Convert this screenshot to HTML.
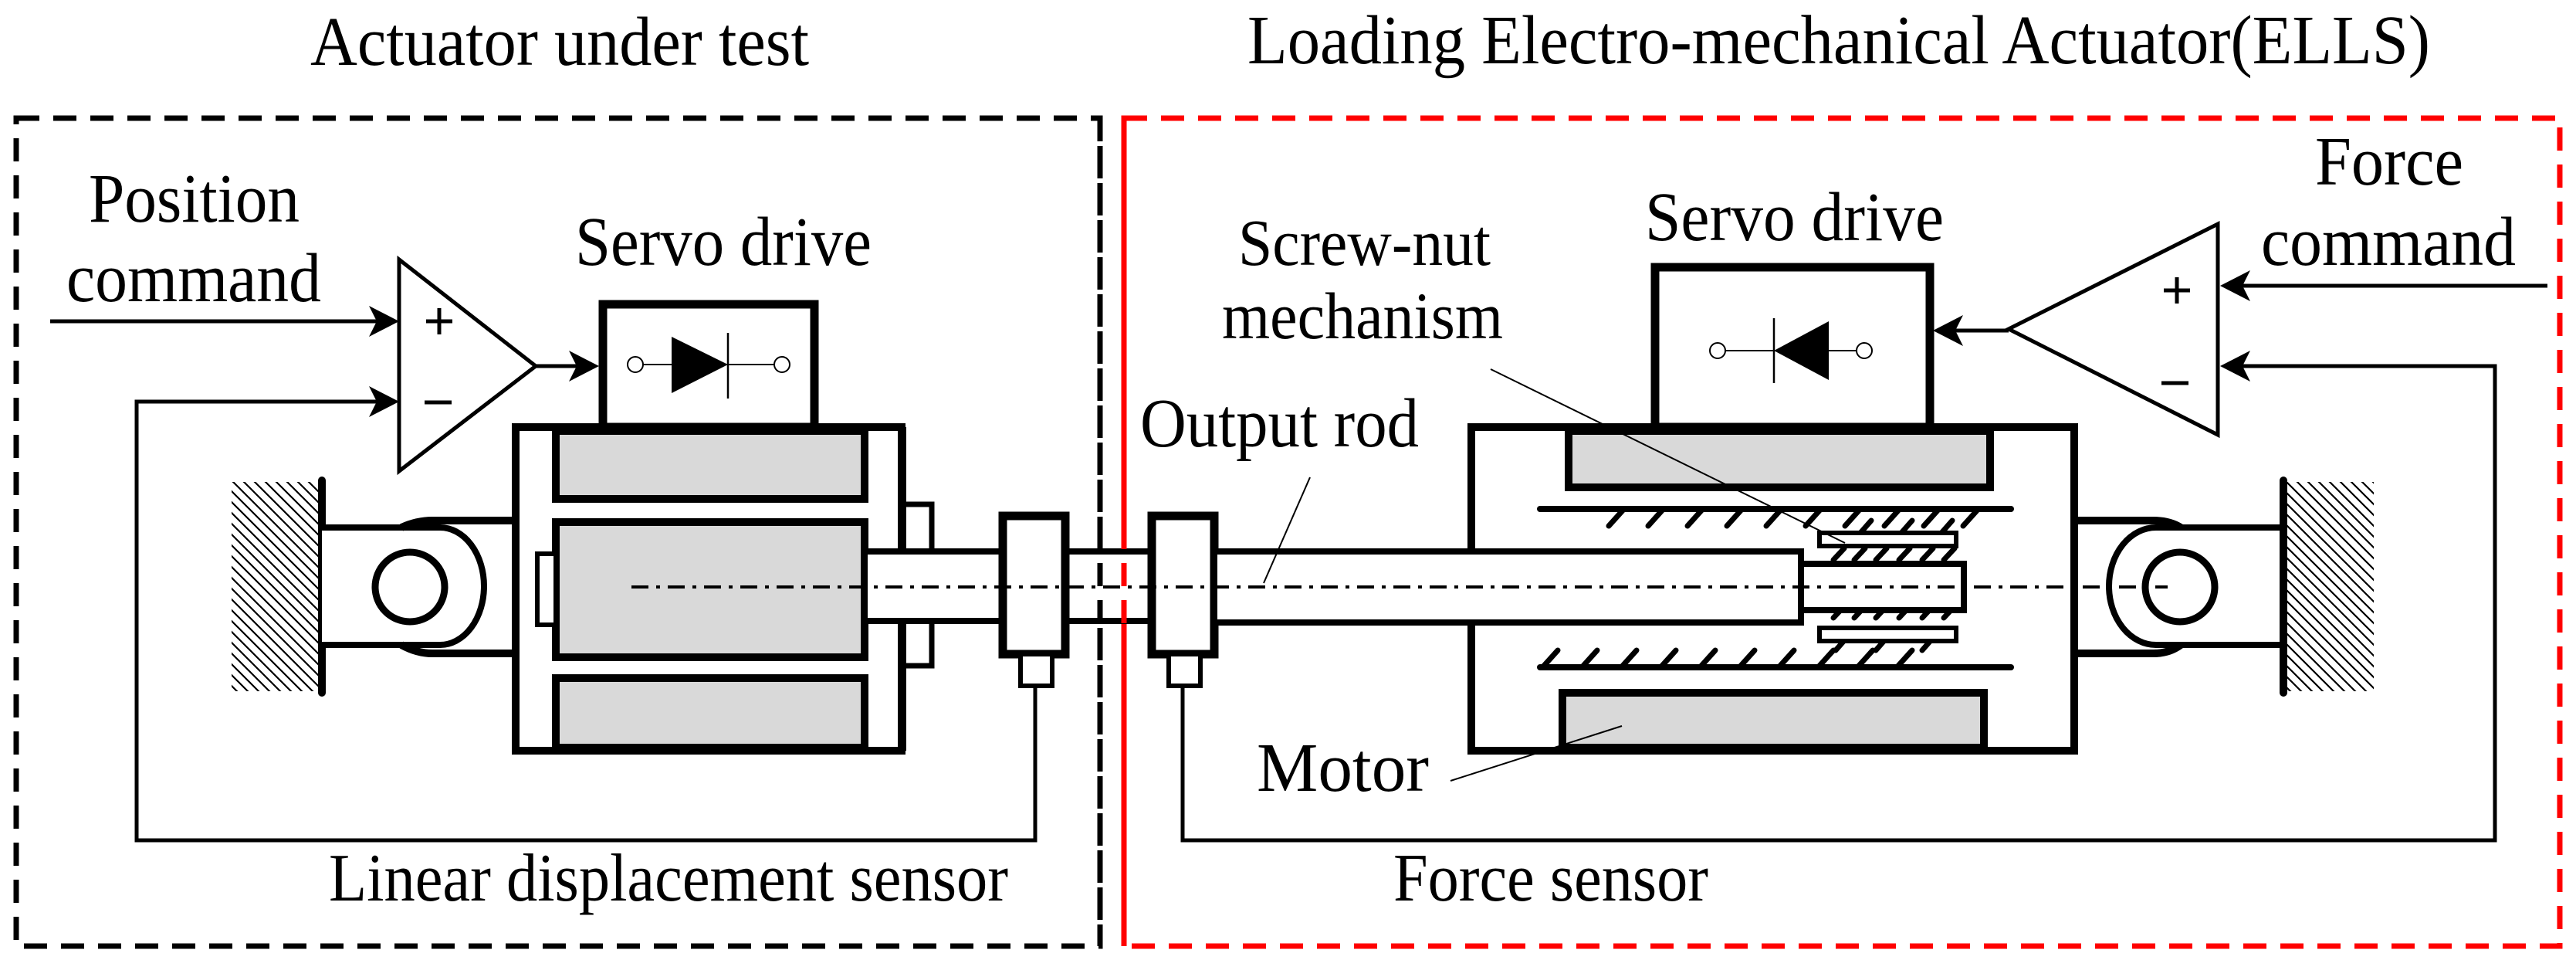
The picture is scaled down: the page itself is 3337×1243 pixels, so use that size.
<!DOCTYPE html>
<html><head><meta charset="utf-8"><style>
html,body{margin:0;padding:0;background:#fff}
svg{display:block}
text{font-family:"Liberation Serif",serif;fill:#000}
</style></head><body>
<svg width="3337" height="1243" viewBox="0 0 3337 1243" xmlns="http://www.w3.org/2000/svg">
<defs>
<pattern id="h" patternUnits="userSpaceOnUse" width="14" height="14">
<path d="M-7,-7 L21,21 M-7,7 L7,21 M7,-7 L21,7" stroke="#000" stroke-width="2.2"/>
</pattern>
</defs>

<!-- titles -->
<text x="402" y="84" font-size="90" textLength="646" lengthAdjust="spacingAndGlyphs">Actuator under test</text>
<text x="1616" y="82" font-size="90" textLength="1532" lengthAdjust="spacingAndGlyphs">Loading Electro-mechanical Actuator(ELLS)</text>

<!-- dashed boxes -->
<rect x="21" y="153" width="1404" height="1072" fill="none" stroke="#000" stroke-width="7" stroke-dasharray="30,18"/>
<rect x="1456" y="153" width="1860" height="1072" fill="none" stroke="#f00" stroke-width="7" stroke-dasharray="30,18"/>

<!-- LEFT labels -->
<text x="115" y="287" font-size="90" textLength="273" lengthAdjust="spacingAndGlyphs">Position</text>
<text x="86" y="390" font-size="90" textLength="330" lengthAdjust="spacingAndGlyphs">command</text>
<text x="745" y="343" font-size="90" textLength="384" lengthAdjust="spacingAndGlyphs">Servo drive</text>
<text x="426" y="1166" font-size="88" textLength="880" lengthAdjust="spacingAndGlyphs">Linear displacement sensor</text>

<!-- left amp -->
<polygon points="517,336 517,610 694,474" fill="none" stroke="#000" stroke-width="5"/>
<line x1="552" y1="416" x2="586" y2="416" stroke="#000" stroke-width="5"/>
<line x1="569" y1="399" x2="569" y2="433" stroke="#000" stroke-width="5"/>
<line x1="550" y1="521" x2="585" y2="521" stroke="#000" stroke-width="5"/>
<line x1="65" y1="416" x2="490" y2="416" stroke="#000" stroke-width="5"/>
<polygon points="517,416 478,396 488,416 478,436" fill="#000"/>
<polyline points="490,520 177,520 177,1088 1341,1088 1341,888" fill="none" stroke="#000" stroke-width="5"/>
<polygon points="517,520 478,500 488,520 478,540" fill="#000"/>
<line x1="694" y1="474" x2="750" y2="474" stroke="#000" stroke-width="5"/>
<polygon points="776,474 737,454 747,474 737,494" fill="#000"/>

<!-- left servo box -->
<rect x="781" y="394" width="274" height="159" fill="#fff" stroke="#000" stroke-width="11"/>
<line x1="833" y1="472" x2="1003" y2="472" stroke="#000" stroke-width="2"/>
<circle cx="823" cy="472" r="10" fill="#fff" stroke="#000" stroke-width="2"/>
<circle cx="1013" cy="472" r="10" fill="#fff" stroke="#000" stroke-width="2"/>
<polygon points="870,436 870,509 943,472" fill="#000"/>
<line x1="943" y1="431" x2="943" y2="516" stroke="#000" stroke-width="2.5"/>

<!-- left clevis & wall -->
<rect x="300" y="624" width="114" height="271" fill="url(#h)"/>
<line x1="417" y1="622" x2="417" y2="897" stroke="#000" stroke-width="10" stroke-linecap="round"/>
<path d="M417,683 H570 A57,76 0 0 1 570,835 H417" fill="#fff" stroke="#000" stroke-width="8"/>
<path d="M520,683 Q540,674 560,674 H667 M520,835 Q540,846 560,846 H667" fill="none" stroke="#000" stroke-width="10"/>
<circle cx="531" cy="760" r="45" fill="none" stroke="#000" stroke-width="9"/>

<!-- left motor housing -->
<rect x="668" y="553" width="500" height="419" fill="#fff" stroke="#000" stroke-width="10"/>
<rect x="720" y="558" width="400" height="88" fill="#d9d9d9" stroke="#000" stroke-width="10"/>
<rect x="720" y="676" width="400" height="175" fill="#d9d9d9" stroke="#000" stroke-width="10"/>
<rect x="720" y="878" width="400" height="90" fill="#d9d9d9" stroke="#000" stroke-width="10"/>
<rect x="696" y="717" width="24" height="92" fill="#fff" stroke="#000" stroke-width="6"/>
<rect x="1169" y="653" width="38" height="209" fill="#fff" stroke="#000" stroke-width="7"/>
<line x1="1169" y1="553" x2="1169" y2="972" stroke="#000" stroke-width="10"/>

<!-- rod left -->
<rect x="1120" y="714" width="180" height="90" fill="#fff" stroke="#000" stroke-width="8"/>
<rect x="1380" y="714" width="112" height="90" fill="#fff" stroke="#000" stroke-width="8"/>

<!-- sensors -->
<rect x="1299" y="668" width="81" height="179" fill="#fff" stroke="#000" stroke-width="11"/>
<rect x="1322" y="847" width="41" height="41" fill="#fff" stroke="#000" stroke-width="6"/>
<rect x="1492" y="668" width="81" height="179" fill="#fff" stroke="#000" stroke-width="11"/>
<rect x="1514" y="847" width="41" height="41" fill="#fff" stroke="#000" stroke-width="6"/>

<line x1="1425" y1="153" x2="1425" y2="1225" stroke="#000" stroke-width="7" stroke-dasharray="30,18"/>
<line x1="1456" y1="153" x2="1456" y2="1225" stroke="#f00" stroke-width="7" stroke-dasharray="30,18"/>

<!-- RIGHT labels -->
<text x="2999" y="239" font-size="90" textLength="192" lengthAdjust="spacingAndGlyphs">Force</text>
<text x="2929" y="343" font-size="90" textLength="330" lengthAdjust="spacingAndGlyphs">command</text>
<text x="2131" y="311" font-size="90" textLength="387" lengthAdjust="spacingAndGlyphs">Servo drive</text>
<text x="1604" y="343" font-size="86" textLength="327" lengthAdjust="spacingAndGlyphs">Screw-nut</text>
<text x="1583" y="438" font-size="86" textLength="364" lengthAdjust="spacingAndGlyphs">mechanism</text>
<text x="1477" y="578" font-size="90" textLength="361" lengthAdjust="spacingAndGlyphs">Output rod</text>
<text x="1628" y="1024" font-size="90" textLength="223" lengthAdjust="spacingAndGlyphs">Motor</text>
<text x="1805" y="1166" font-size="88" textLength="408" lengthAdjust="spacingAndGlyphs">Force sensor</text>

<!-- right amp -->
<polygon points="2873,290 2873,563 2602,426" fill="none" stroke="#000" stroke-width="5"/>
<line x1="2803" y1="376" x2="2837" y2="376" stroke="#000" stroke-width="5"/>
<line x1="2820" y1="359" x2="2820" y2="393" stroke="#000" stroke-width="5"/>
<line x1="2800" y1="496" x2="2835" y2="496" stroke="#000" stroke-width="5"/>
<line x1="3300" y1="370" x2="2900" y2="370" stroke="#000" stroke-width="5"/>
<polygon points="2876,370 2915,350 2905,370 2915,390" fill="#000"/>
<polyline points="2900,474 3232,474 3232,1088 1532,1088 1532,888" fill="none" stroke="#000" stroke-width="5"/>
<polygon points="2876,474 2915,454 2905,474 2915,494" fill="#000"/>
<line x1="2602" y1="428" x2="2530" y2="428" stroke="#000" stroke-width="5"/>
<polygon points="2504,428 2543,408 2533,428 2543,448" fill="#000"/>

<!-- right servo box -->
<rect x="2144" y="346" width="356" height="207" fill="#fff" stroke="#000" stroke-width="11"/>
<line x1="2235" y1="454" x2="2405" y2="454" stroke="#000" stroke-width="2"/>
<circle cx="2225" cy="454" r="10" fill="#fff" stroke="#000" stroke-width="2"/>
<circle cx="2415" cy="454" r="10" fill="#fff" stroke="#000" stroke-width="2"/>
<polygon points="2369,416 2369,492 2298,454" fill="#000"/>
<line x1="2298" y1="412" x2="2298" y2="496" stroke="#000" stroke-width="2.5"/>

<!-- right housing -->
<rect x="1906" y="553" width="781" height="419" fill="#fff" stroke="#000" stroke-width="10"/>
<rect x="2032" y="558" width="546" height="73" fill="#d9d9d9" stroke="#000" stroke-width="10"/>
<rect x="2024" y="897" width="546" height="71" fill="#d9d9d9" stroke="#000" stroke-width="10"/>

<!-- screw lines -->
<line x1="1995" y1="659" x2="2605" y2="659" stroke="#000" stroke-width="8" stroke-linecap="round"/>
<line x1="1995" y1="864" x2="2605" y2="864" stroke="#000" stroke-width="8" stroke-linecap="round"/>
<g stroke="#000" stroke-width="7" stroke-linecap="round">
<path d="M2084,681 l18,-20 M2135,681 l18,-20 M2186,681 l18,-20 M2237,681 l18,-20 M2288,681 l18,-20 M2339,681 l18,-20 M2390,681 l18,-20 M2441,681 l18,-20 M2492,681 l18,-20 M2543,681 l18,-20"/>
<path d="M2410,690 l14,-16 M2463,690 l14,-16 M2515,690 l14,-16"/>
<path d="M2375,725 l14,-15 M2402,725 l14,-15 M2430,725 l14,-15 M2460,725 l14,-15 M2490,725 l14,-15 M2518,725 l14,-15"/>
<path d="M2375,800 l14,-15 M2402,800 l14,-15 M2430,800 l14,-15 M2460,800 l14,-15 M2490,800 l14,-15 M2518,800 l14,-15"/>
<path d="M2378,842 l14,-16 M2430,842 l14,-16 M2490,842 l14,-16"/>
<path d="M2000,862 l18,-20 M2051,862 l18,-20 M2102,862 l18,-20 M2153,862 l18,-20 M2204,862 l18,-20 M2255,862 l18,-20 M2306,862 l18,-20 M2357,862 l18,-20 M2408,862 l18,-20 M2459,862 l18,-20"/>
</g>
<rect x="2357" y="690" width="177" height="17" fill="#fff" stroke="#000" stroke-width="6"/>
<rect x="2357" y="813" width="177" height="17" fill="#fff" stroke="#000" stroke-width="6"/>

<!-- output rod -->
<rect x="1573" y="714" width="760" height="92" fill="#fff" stroke="#000" stroke-width="8"/>
<rect x="2333" y="730" width="211" height="60" fill="#fff" stroke="#000" stroke-width="8"/>

<!-- right clevis & wall -->
<path d="M2687,674 H2790 Q2810,674 2825,683 M2687,846 H2790 Q2810,846 2825,835" fill="none" stroke="#000" stroke-width="10"/>
<path d="M2958,683 H2793 A61,76 0 0 0 2793,835 H2958" fill="#fff" stroke="#000" stroke-width="8"/>
<circle cx="2824" cy="760" r="45" fill="none" stroke="#000" stroke-width="9"/>
<rect x="2962" y="624" width="113" height="271" fill="url(#h)"/>
<line x1="2958" y1="622" x2="2958" y2="897" stroke="#000" stroke-width="10" stroke-linecap="round"/>

<!-- centre line -->
<line x1="818" y1="760" x2="2808" y2="760" stroke="#000" stroke-width="4" stroke-dasharray="22,10,5,10"/>

<!-- leaders -->
<g stroke="#000" stroke-width="2" fill="none">
<line x1="1931" y1="478" x2="2390" y2="703"/>
<line x1="1697" y1="618" x2="1637" y2="755"/>
<line x1="1879" y1="1011" x2="2101" y2="940"/>
</g>
</svg>
</body></html>
